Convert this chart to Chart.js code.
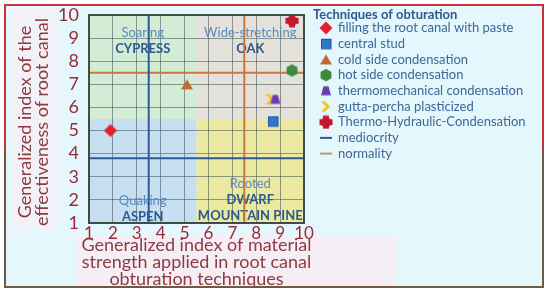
<!DOCTYPE html>
<html>
<head>
<meta charset="utf-8">
<script src="https://cdn.jsdelivr.net/npm/chart.js@4"></script>
<style>
html,body{margin:0;padding:0;background:#fff;}
#wrap{position:relative;width:550px;height:293px;}
</style>
</head>
<body>
<div id="wrap"><canvas id="c" width="550" height="293"></canvas></div>
<script>
// ---- data ----
const techniques = ['filling the root canal with paste','central stud','cold side condensation','hot side condensation','thermomechanical condensation','gutta-percha plasticized','Thermo-Hydraulic-Condensation'];
const strengthIndex = [1.9, 8.7, 5.1, 9.5, 8.8, 8.6, 9.5];
const effectivenessIndex = [5.0, 5.4, 7.0, 7.6, 6.35, 6.35, 9.75];
const xTicks = [1,2,3,4,5,6,7,8,9,10];
const yTicks = [1,2,3,4,5,6,7,8,9,10];
const mediocrity = [3.5, 3.8];   // [strength, effectiveness]
const normality = [7.5, 7.5];
const zoneSplit = [5.5, 5.5];
const zoneTitles = [['Soaring','CYPRESS'],['Wide-stretching','OAK'],['Quaking','ASPEN'],['Rooted','DWARF','MOUNTAIN PINE']];
const legendTitle = 'Techniques of obturation';
const xTitle = ['Generalized index of material','strength applied in root canal','obturation techniques'];
const yTitle = ['Generalized index of the','effectiveness of root canal'];

// ---- styles ----
const FONT = 'Lato, "Open Sans", sans-serif';
const markerColors = ['#e3202b','#2f78cc','#c2692d','#3d8b3d','#6a3db0','#f0c21c','#c4182a'];
const markerKinds = ['diamond','square','triangle','hexagon','trapezoid','chevron','cross'];

function makeMarker(kind, color){
  const s = 14;
  const cv = document.createElement('canvas');
  cv.width = s; cv.height = s;
  const g = cv.getContext('2d');
  g.fillStyle = color;
  const c = s/2;
  g.beginPath();
  if(kind==='diamond'){ g.moveTo(c,0.5); g.lineTo(s-0.5,c); g.lineTo(c,s-0.5); g.lineTo(0.5,c); g.closePath(); g.fill(); }
  else if(kind==='square'){ g.fillRect(2.5,2.5,9.5,9.5); g.strokeStyle='#1d569a'; g.lineWidth=1; g.strokeRect(2.5,2.5,9.5,9.5); }
  else if(kind==='triangle'){ g.moveTo(c,2); g.lineTo(s-1,12); g.lineTo(1,12); g.closePath(); g.fill(); }
  else if(kind==='hexagon'){ for(let i=0;i<6;i++){const a=Math.PI/6+i*Math.PI/3; const px=c+6.3*Math.cos(a), py=c+6.3*Math.sin(a); i?g.lineTo(px,py):g.moveTo(px,py);} g.closePath(); g.fill(); }
  else if(kind==='trapezoid'){ g.moveTo(4.5,2.5); g.lineTo(9.5,2.5); g.lineTo(12,11.5); g.lineTo(2,11.5); g.closePath(); g.fill(); }
  else if(kind==='chevron'){ g.moveTo(2,2); g.lineTo(6,2); g.lineTo(11,7); g.lineTo(6,12); g.lineTo(2,12); g.lineTo(7,7); g.closePath(); g.fill(); }
  else if(kind==='cross'){ g.fillRect(4,0.5,6,13); g.fillRect(0.5,4,13,6); g.beginPath(); g.arc(c,c,5.2,0,Math.PI*2); g.fill(); }
  return cv;
}
const markers = markerKinds.map((k,i)=>makeMarker(k, markerColors[i]));

const pointDatasets = techniques.map((t,i)=>({
  label: t,
  data: [{x: strengthIndex[i], y: effectivenessIndex[i]}],
  pointStyle: markers[i],
  pointRadius: 7,
  pointHoverRadius: 7,
  showLine: false,
  order: 1
}));
const lineDatasets = [
  {label:'mediocrity', data:[{x:mediocrity[0],y:1},{x:mediocrity[0],y:10},{x:mediocrity[0],y:null},{x:1,y:mediocrity[1]},{x:10,y:mediocrity[1]}],
   borderColor:'#2f5a98', borderWidth:2, showLine:true, pointRadius:0, spanGaps:false, order:2},
  {label:'normality', data:[{x:normality[0],y:1},{x:normality[0],y:10},{x:normality[0],y:null},{x:1,y:normality[1]},{x:10,y:normality[1]}],
   borderColor:'#c8783c', borderWidth:2, showLine:true, pointRadius:0, spanGaps:false, order:2}
];

const frame = {
  id:'frame',
  beforeDraw(chart){
    const ctx = chart.ctx, a = chart.chartArea, x = chart.scales.x, y = chart.scales.y;
    ctx.save();
    ctx.fillStyle='#ffffff'; ctx.fillRect(0,0,550,293);
    ctx.fillStyle='#e4f7fc'; ctx.fillRect(5,5,538,282);
    ctx.fillStyle='#f3f1f8'; ctx.fillRect(12,8,46,222);
    ctx.fillStyle='#f6eef6'; ctx.fillRect(75,236,320,50);
    // zones
    const sx = x.getPixelForValue(zoneSplit[0]), sy = y.getPixelForValue(zoneSplit[1]);
    ctx.fillStyle='#d3ecd6'; ctx.fillRect(a.left,a.top,sx-a.left,sy-a.top);
    ctx.fillStyle='#e4e0da'; ctx.fillRect(sx,a.top,a.right-sx,sy-a.top);
    ctx.fillStyle='#c6e0f2'; ctx.fillRect(a.left,sy,sx-a.left,a.bottom-sy);
    ctx.fillStyle='#ebe8a2'; ctx.fillRect(sx,sy,a.right-sx,a.bottom-sy);
    ctx.restore();
  },
  beforeDatasetsDraw(chart){
    const ctx = chart.ctx, x = chart.scales.x, y = chart.scales.y;
    ctx.save();
    ctx.textAlign='center'; ctx.textBaseline='middle';
    const place = [[3.25, 9.25],[7.75, 9.25],[3.25, 1.95],[7.75, 2.7]];
    zoneTitles.forEach((lines,i)=>{
      const cx = x.getPixelForValue(place[i][0]);
      let cy = y.getPixelForValue(place[i][1]);
      lines.forEach((t,j)=>{
        if(j===0){ ctx.font='13px '+FONT; ctx.fillStyle='#5a8bbf'; }
        else { ctx.font='bold 13px '+FONT; ctx.fillStyle='#2c5a8c'; }
        ctx.fillText(t, cx, cy + j*16);
      });
    });
    ctx.restore();
  },
  afterDraw(chart){
    const ctx = chart.ctx, a = chart.chartArea;
    ctx.save();
    // plot border
    ctx.strokeStyle='#3f4e44'; ctx.lineWidth=2;
    ctx.strokeRect(a.left,a.top,a.right-a.left,a.bottom-a.top);
    // axis titles
    ctx.fillStyle='#8e3b3e'; ctx.textAlign='center'; ctx.textBaseline='middle';
    ctx.font='18px '+FONT;
    xTitle.forEach((t,i)=>ctx.fillText(t,(a.left+a.right)/2, 245+i*17));
    ctx.save();
    ctx.translate(0,(a.top+a.bottom)/2+3); ctx.rotate(-Math.PI/2);
    yTitle.forEach((t,i)=>ctx.fillText(t,0,25+i*17));
    ctx.restore();
    // legend
    ctx.textAlign='left'; ctx.textBaseline='middle';
    ctx.font='bold 13px '+FONT; ctx.fillStyle='#2c5a8c';
    ctx.fillText(legendTitle, 313, 15);
    ctx.font='13px '+FONT; 
    const items = chart.data.datasets;
    items.forEach((ds,i)=>{
      const yy = 28 + i*15.7;
      if(ds.pointStyle && ds.pointStyle.getContext){
        ctx.drawImage(ds.pointStyle, 326-7, yy-7);
      } else {
        ctx.strokeStyle = i===7 ? '#2f5a98' : '#b89a70'; ctx.lineWidth=2;
        ctx.beginPath(); ctx.moveTo(320,yy); ctx.lineTo(332,yy); ctx.stroke();
      }
      ctx.fillStyle='#3d6898';
      ctx.fillText(ds.label, 338, yy);
    });
    // frame border
    ctx.lineWidth=2;
    ctx.strokeStyle='#c8323c';
    ctx.beginPath(); ctx.moveTo(5,150); ctx.lineTo(5,5); ctx.lineTo(543,5); ctx.lineTo(543,150); ctx.stroke();
    ctx.strokeStyle='#6e5a40';
    ctx.beginPath(); ctx.moveTo(5,150); ctx.lineTo(5,287); ctx.lineTo(543,287); ctx.lineTo(543,150); ctx.stroke();
    ctx.restore();
  }
};

new Chart(document.getElementById('c'), {
  type:'scatter',
  data:{ datasets: pointDatasets.concat(lineDatasets) },
  options:{
    responsive:false, animation:false,
    layout:{ padding:{ left:0, top:15, right:246, bottom:0 } },
    plugins:{ legend:{display:false}, tooltip:{enabled:false} },
    scales:{
      x:{ type:'linear', min:1, max:10,
          afterBuildTicks(s){ s.ticks = xTicks.map(v=>({value:v})); },
          ticks:{ font:{size:17, family:FONT}, color:'#9b2a38', padding:0, autoSkip:false, maxRotation:0, minRotation:0 },
          grid:{ color:'rgba(60,80,85,0.55)', lineWidth:1, drawTicks:false },
          border:{ display:false },
          afterFit(s){ s.height = 70; s.paddingLeft = 0; s.paddingRight = 0; } },
      y:{ type:'linear', min:1, max:10,
          afterBuildTicks(s){ s.ticks = yTicks.map(v=>({value:v})); },
          ticks:{ font:{size:18, family:FONT}, color:'#9b2a38', padding:10, autoSkip:false },
          grid:{ color:'rgba(60,80,85,0.55)', lineWidth:1, drawTicks:false },
          border:{ display:false },
          afterFit(s){ s.width = 89; s.paddingTop = 0; s.paddingBottom = 0; } }
    }
  },
  plugins:[frame]
});
</script>
</body>
</html>
